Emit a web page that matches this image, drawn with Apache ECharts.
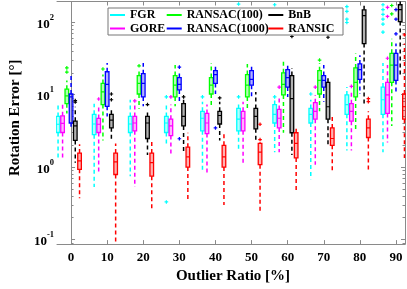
<!DOCTYPE html>
<html><head><meta charset="utf-8">
<script src="https://cdn.jsdelivr.net/npm/echarts@6/dist/echarts.min.js"></script>
<style>html,body{margin:0;padding:0;background:#fff}#c{width:407px;height:289px}</style>
</head><body><div id="c"></div>
<script>
// ---------- data ----------
const groups = [0, 10, 20, 30, 40, 50, 60, 70, 80, 90];
const methods = ['FGR', 'GORE', 'RANSAC(100)', 'RANSAC(1000)', 'BnB', 'RANSIC'];
// each row: [low whisker, Q1, median, Q3, high whisker]
const FGR = [
  [1.34, 3.0, 3.9, 5.0, 7.3], [0.53, 2.8, 3.93, 5.35, 7.5], [0.75, 3.0, 3.93, 5.0, 8.5],
  [2.0, 3.0, 4.06, 5.0, 7.3], [0.92, 3.17, 4.72, 5.88, 8.0], [1.7, 3.17, 4.58, 6.45, 8.0],
  [1.6, 4.06, 5.35, 7.3, 8.5], [0.68, 4.06, 5.35, 6.45, 8.5], [1.7, 5.35, 7.3, 9.9, 12.7],
  [1.6, 5.35, 8.5, 12.7, 27.3]
];
const GORE = [
  [1.34, 3.0, 4.0, 5.1, 7.4], [0.79, 3.0, 3.9, 4.7, 6.8], [0.53, 3.17, 4.06, 5.0, 7.3],
  [1.47, 2.72, 3.7, 4.58, 7.3], [0.84, 2.9, 4.06, 5.5, 7.3], [1.15, 3.17, 4.72, 5.88, 8.0],
  [1.6, 3.47, 4.72, 6.25, 9.3], [1.08, 4.58, 5.88, 7.75, 9.9], [1.7, 4.3, 5.88, 7.5, 10.9],
  [2.19, 5.5, 9.9, 14.8, 25.6]
];
const RANSAC100 = [
  [5.5, 7.5, 9.6, 11.9, 15.7], [2.33, 7.3, 10.9, 14.3, 18.9], [6.4, 10.2, 14.3, 18.3, 21.4],
  [6.9, 9.3, 13.5, 18.3, 25.6], [6.9, 10.2, 13.5, 17.2, 27.3], [6.45, 9.3, 13.5, 18.9, 26.5],
  [2.98, 9.9, 13.9, 20, 29.1], [5.88, 10.2, 15.7, 21.4, 27.3], [3.17, 9.3, 14.8, 23.4, 37],
  [3.7, 14.8, 25.6, 37.2, 58.9]
];
const RANSAC1000 = [
  [3.6, 4.06, 9.3, 10.2, 18.9], [5.0, 6.9, 13.9, 20.7, 27.3], [6.9, 9.3, 14.3, 19.5, 27.3],
  [7.5, 11.6, 13.9, 17.2, 20], [10.2, 14.3, 18.9, 21.4, 25.6], [9.3, 13.5, 16.2, 21.4, 25.6],
  [9.3, 12.7, 17.2, 22.1, 27.3], [8.0, 12.7, 15.7, 18.3, 25.6], [10.2, 16.2, 22.1, 26.5, 34.9],
  [10.2, 15.7, 25.6, 37.2, 50.6]
];
const BnB = [
  [1.15, 2.33, 3.7, 4.3, 6.8], [2.4, 3.48, 4.45, 5.35, 6.2], [1.47, 2.48, 4.06, 5.0, 6.25],
  [1.6, 3.7, 5.0, 7.5, 8.5], [2.33, 3.93, 5.15, 5.88, 8.0], [2.33, 3.37, 5.0, 6.45, 10.9],
  [1.47, 2.98, 8.8, 18.3, 23.4], [2.0, 4.58, 6.8, 14.8, 17.2], [7.5, 50.6, 123, 148, 174],
  [18.9, 102, 149, 174, 250]
];
const RANSIC = [
  [0.37, 0.93, 1.22, 1.56, 2.06], [0.07, 0.79, 1.18, 1.56, 2.12], [0.25, 0.75, 1.15, 1.56, 2.33],
  [0.35, 1.0, 1.38, 1.88, 2.98], [0.3, 1.0, 1.38, 2.0, 2.9], [0.25, 1.08, 1.61, 2.12, 2.2],
  [0.46, 1.34, 2.12, 2.98, 3.7], [0.82, 2.0, 2.48, 3.47, 5.0], [0.87, 2.56, 3.47, 4.58, 5.88],
  [1.34, 4.58, 6.8, 10.2, 50.6]
];
// outliers: [group, value]
const FGR_out = [[30, 9.3], [30, 0.33], [40, 9.3], [50, 9.3], [50, 178], [60, 9.3], [60, 174], [70, 10.2],
  [80, 164], [80, 141], [80, 110], [80, 99], [90, 174], [90, 149], [90, 128], [90, 110], [90, 94], [90, 73]];
const GORE_out = [[10, 8.7], [20, 8.2], [30, 9.3], [60, 12.7], [70, 12.7], [80, 13], [90, 31.8], [90, 160], [90, 120]];
const RANSAC100_out = [[0, 23.4], [0, 20.5], [10, 22.6], [20, 25], [70, 30], [90, 170], [90, 130]];
const RANSAC1000_out = [[30, 24], [30, 2.46], [40, 3.47], [90, 149], [90, 110], [90, 69]];
const BnB_out = [[0, 7.9], [0, 8.3], [10, 10.2], [10, 8.5], [20, 7.3], [30, 9.3], [40, 9.0], [60, 63.5], [70, 62]];
const RANSIC_out = [[50, 3.9], [50, 2.4], [80, 8.8], [80, 8.0], [90, 67]];
const xTickValues = [0, 10, 20, 30, 40, 50, 60, 70, 80, 90];
const yMajorValues = [0.1, 1, 10, 100];
const yMinorValues = [0.09, 0.2, 0.3, 0.4, 0.5, 0.6, 0.7, 0.8, 0.9, 2, 3, 4, 5, 6, 7, 8, 9, 20, 30, 40, 50, 60, 70, 80, 90];

// ---------- style ----------
const colors = ['#00ffff', '#ff00ff', '#00ff00', '#0000ff', '#000000', '#ff0000'];
const fills = ['rgba(0,255,255,0.3)', 'rgba(255,0,255,0.3)', 'rgba(0,255,0,0.3)', 'rgba(0,0,255,0.3)', 'rgba(0,0,0,0.3)', 'rgba(255,0,0,0.3)'];
const offsets = [-3.6, -2.35, -1.17, 0, 1.17, 2.35];
const HW = 0.5;
const FONT = 'Liberation Serif';
const AX = '#8a8a8a';
const boxData = [FGR, GORE, RANSAC100, RANSAC1000, BnB, RANSIC];
const outData = [FGR_out, GORE_out, RANSAC100_out, RANSAC1000_out, BnB_out, RANSIC_out];

function boxRenderer(m) {
  const off = offsets[m], col = colors[m], fill = fills[m];
  return function (params, api) {
    const x = api.value(0) + off;
    const lo = api.coord([x, api.value(1)]);
    const q1 = api.coord([x, api.value(2)]);
    const md = api.coord([x, api.value(3)]);
    const q3 = api.coord([x, api.value(4)]);
    const hi = api.coord([x, api.value(5)]);
    const L = api.coord([x - HW, api.value(3)])[0];
    const R = api.coord([x + HW, api.value(3)])[0];
    const cx = md[0];
    const dash = { stroke: col, lineWidth: 1.5, lineDash: [4, 3] };
    return {
      type: 'group', children: [
        { type: 'line', shape: { x1: cx, y1: q3[1], x2: cx, y2: hi[1] }, style: dash },
        { type: 'line', shape: { x1: cx, y1: q1[1], x2: cx, y2: lo[1] }, style: dash },
        { type: 'rect', shape: { x: L, y: q3[1], width: R - L, height: q1[1] - q3[1] }, style: { fill: fill, stroke: col, lineWidth: 1.3 } },
        { type: 'line', shape: { x1: L, y1: md[1], x2: R, y2: md[1] }, style: { stroke: col, lineWidth: 1.2 } }
      ]
    };
  };
}
function outRenderer(m) {
  const off = offsets[m], col = colors[m];
  return function (params, api) {
    const p = api.coord([api.value(0) + off, api.value(1)]);
    const s = 1.8;
    return {
      type: 'group', children: [
        { type: 'line', shape: { x1: p[0] - s, y1: p[1], x2: p[0] + s, y2: p[1] }, style: { stroke: col, lineWidth: 1.2 } },
        { type: 'line', shape: { x1: p[0], y1: p[1] - s, x2: p[0], y2: p[1] + s }, style: { stroke: col, lineWidth: 1.2 } }
      ]
    };
  };
}

const series = [];
methods.forEach((name, m) => {
  series.push({
    name: name, type: 'custom', clip: true, xAxisIndex: 0, yAxisIndex: 0,
    itemStyle: { color: colors[m] },
    renderItem: boxRenderer(m),
    encode: { x: 0, y: [1, 2, 3, 4, 5] },
    data: groups.map((g, i) => [g].concat(boxData[m][i]))
  });
});
methods.forEach((name, m) => {
  series.push({
    name: name, type: 'custom', clip: true, xAxisIndex: 0, yAxisIndex: 0,
    itemStyle: { color: colors[m] },
    renderItem: outRenderer(m),
    encode: { x: 0, y: 1 },
    data: outData[m]
  });
});

const yBase = { type: 'log', logBase: 10, min: 0.0865, max: 193, splitLine: { show: false } };
const xBase = { type: 'value', min: -3.9, max: 92.5, splitLine: { show: false } };
const legendText = { fontFamily: FONT, fontWeight: 'bold', fontSize: 12, color: '#000', lineHeight: 13 };
function legendCol(names, left) {
  return {
    orient: 'vertical', left: left, top: 8.5, itemWidth: 15, itemHeight: 2, itemGap: 0.5, icon: 'rect',
    padding: 0, z: 12, selectedMode: false, textStyle: legendText,
    data: names.map(n => ({ name: n, itemStyle: { color: colors[methods.indexOf(n)] } }))
  };
}

const option = {
  animation: false,
  backgroundColor: '#fff',
  grid: { left: 43, right: 2, top: 1.5, bottom: 37 },
  xAxis: [
    Object.assign({}, xBase, {
      position: 'bottom',
      axisLine: { show: true, lineStyle: { color: AX, width: 1 } },
      axisTick: { show: true, inside: true, length: 4, customValues: xTickValues, lineStyle: { color: AX } },
      axisLabel: { customValues: xTickValues, margin: 7, color: '#000', fontFamily: FONT, fontWeight: 'bold', fontSize: 13 },
      name: 'Outlier Ratio [%]', nameLocation: 'middle', nameGap: 21,
      nameTextStyle: { fontFamily: FONT, fontWeight: 'bold', fontSize: 15, color: '#000', padding: [0, 0, 0, 4] }
    }),
    Object.assign({}, xBase, {
      position: 'top',
      axisLine: { show: true, lineStyle: { color: AX, width: 1 } },
      axisTick: { show: true, inside: true, length: 4, customValues: xTickValues, lineStyle: { color: AX } },
      axisLabel: { show: false }
    })
  ],
  yAxis: [
    Object.assign({}, yBase, {
      position: 'left',
      axisLine: { show: true, lineStyle: { color: AX, width: 1 } },
      axisTick: { show: true, inside: true, length: 4, customValues: yMajorValues, lineStyle: { color: AX } },
      axisLabel: {
        customValues: yMajorValues, margin: 3,
        formatter: function (v) { return '{b|10}{s|' + Math.round(Math.log10(v)) + '}'; },
        rich: {
          b: { fontFamily: FONT, fontWeight: 'bold', fontSize: 13, color: '#000', lineHeight: 18, verticalAlign: 'bottom' },
          s: { fontFamily: FONT, fontWeight: 'bold', fontSize: 8.5, color: '#000', lineHeight: 10, verticalAlign: 'top' }
        }
      },
      name: 'Rotation Error [\u00b0]', nameLocation: 'middle', nameGap: 33, nameRotate: 90,
      nameTextStyle: { fontFamily: FONT, fontWeight: 'bold', fontSize: 15, color: '#000', padding: [0, 0, 0, 10] }
    }),
    Object.assign({}, yBase, {
      position: 'left', axisLine: { show: false },
      axisTick: { show: true, inside: true, length: 2.5, customValues: yMinorValues, lineStyle: { color: AX } },
      axisLabel: { show: false }
    }),
    Object.assign({}, yBase, {
      position: 'right',
      axisLine: { show: true, lineStyle: { color: AX, width: 1 } },
      axisTick: { show: true, inside: true, length: 4, customValues: yMajorValues, lineStyle: { color: AX } },
      axisLabel: { show: false }
    }),
    Object.assign({}, yBase, {
      position: 'right', axisLine: { show: false },
      axisTick: { show: true, inside: true, length: 2.5, customValues: yMinorValues, lineStyle: { color: AX } },
      axisLabel: { show: false }
    })
  ],
  legend: [
    legendCol(['FGR', 'GORE'], 110),
    legendCol(['RANSAC(100)', 'RANSAC(1000)'], 166.7),
    legendCol(['BnB', 'RANSIC'], 268.3)
  ],
  graphic: [
    { type: 'rect', z: 11, shape: { x: 108, y: 8, width: 235, height: 27 }, style: { fill: '#fff', stroke: '#777', lineWidth: 1 } }
  ],
  series: series
};
const chart = echarts.init(document.getElementById('c'), null, { renderer: 'canvas' });
chart.setOption(option);
</script></body></html>
